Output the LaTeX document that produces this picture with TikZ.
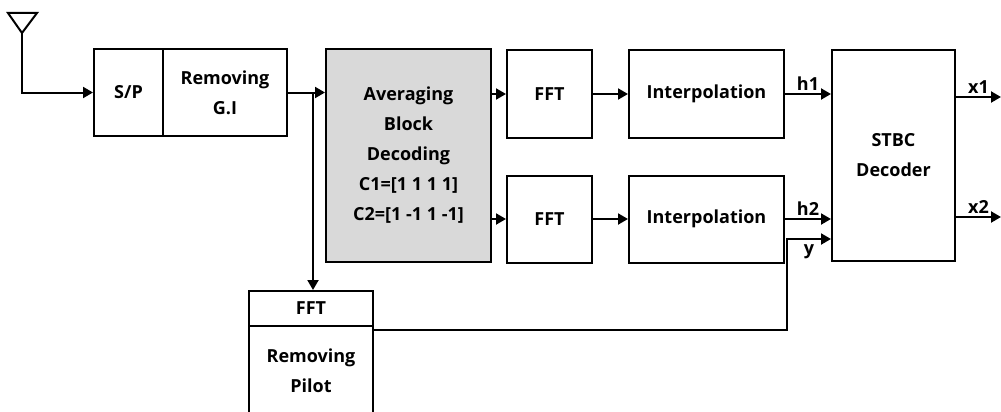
\documentclass[tikz,border=0pt]{standalone}
\usepackage{fontspec}
\setmainfont{Open Sans}
\usetikzlibrary{arrows.meta,positioning}
\tikzset{%
  >={Triangle[width=11pt,length=10pt]},
            base/.style = {rectangle, draw=black, line width=2pt,
                           text centered, inner sep=0pt,
                           font=\fontsize{18}{30}\selectfont\bfseries},
  box0/.style = {base, fill=white, align=center},
  box1/.style = {base, fill=black!15, align=center},
  wire/.style = {line width=2pt},
  tag/.style  = {inner sep=3pt, font=\fontsize{18}{22}\selectfont\bfseries},
}

\begin{document}
\begin{tikzpicture}[x=1pt, y=-1pt]
  \useasboundingbox (0,0) rectangle (1001,412);

  \node (onSP)       [box0, minimum width=69pt,  minimum height=87pt]  at (128.5,92.5) {S/P};
  \node (onRemGI)    [box0, minimum width=124pt, minimum height=87pt, right=-2pt of onSP]
  {Removing\\G.I};
  \node (onAvg)      [box1, minimum width=165pt, minimum height=213pt] at (408.5,155.5)
  {Averaging\\
   Block\\
   Decoding\\
   C1=[1 1 1 1]\\
   C2=[1 -1 1 -1]};
  \node (onFFTa)     [box0, minimum width=85pt,  minimum height=87pt]  at (549.5,94) {FFT};
  \node (onFFTb)     [box0, minimum width=85pt,  minimum height=87pt, below=36pt of onFFTa] {FFT};
  \node (onInterpA)  [box0, minimum width=155pt, minimum height=87pt, right=35pt of onFFTa] {Interpolation};
  \node (onInterpB)  [box0, minimum width=155pt, minimum height=87pt, right=35pt of onFFTb] {Interpolation};
  \node (onSTBC)     [box0, minimum width=123pt, minimum height=211pt] at (893.5,155.5)
  {STBC\\Decoder};
  \node (onPilotFFT) [box0, minimum width=124pt, minimum height=35pt]  at (311,308.5) {FFT};
  \node (onPilotRem) [box0, minimum width=124pt, minimum height=90pt, below=-2pt of onPilotFFT]
  {Removing\\Pilot};

  % antenna
  \draw[wire] (8,13) -- (37,13) -- (22,33) -- cycle;
  \coordinate (onAnt)   at (22,33);
  \coordinate (onSplit) at (313,92.5);
  \coordinate (onYBend) at (787,239);
  \coordinate (onOutA)  at (1001,97);
  \coordinate (onOutB)  at (1001,217);

  \draw[wire,->] (onAnt) |- (onSP.west);
  \draw[wire,->] (onRemGI.east) -- (onRemGI.east -| onAvg.west);
  \draw[wire,->] (onSplit) -- (onSplit |- onPilotFFT.north);
  \draw[wire,->] (onAvg.east |- onFFTa) -- (onFFTa.west);
  \draw[wire,->] (onAvg.east |- onFFTb) -- (onFFTb.west);
  \draw[wire,->] (onFFTa) -- (onInterpA);
  \draw[wire,->] (onFFTb) -- (onInterpB);
  \draw[wire,->] (onInterpA.east) -- node[tag, above] {h1} (onInterpA.east -| onSTBC.west);
  \draw[wire,->] (onInterpB.east) -- node[tag, above] {h2} (onInterpB.east -| onSTBC.west);
  \draw[wire,->] ([yshift=-5pt]onPilotRem.north east) -| (onYBend)
                 -- node[tag, below, yshift=-2pt] {y} (onYBend -| onSTBC.west);
  \draw[wire,->] (onSTBC.east |- onOutA) -- node[tag, above] {x1} (onOutA);
  \draw[wire,->] (onSTBC.east |- onOutB) -- node[tag, above] {x2} (onOutB);
\end{tikzpicture}
\end{document}
